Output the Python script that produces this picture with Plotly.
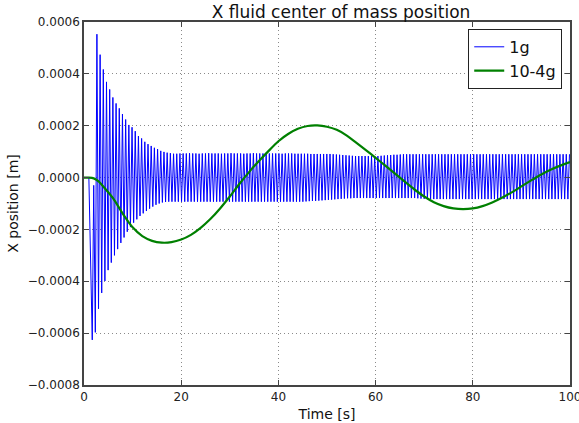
import plotly.graph_objects as go

# ---------------- data ----------------
# 10-4g series: time [s] and X position [m]
t_slow = [0, 1, 2, 3, 4, 6, 8, 10, 12, 14, 16, 18, 20, 22, 24, 26, 28, 30, 32,
          34, 36, 38, 40, 42, 44, 46, 48, 50, 52, 54, 56, 58, 60, 62, 64, 66, 68,
          70, 72, 74, 76, 78, 80, 82, 84, 86, 88, 90, 92, 94, 96, 98, 100]
x_slow = [0.0, 0.0, -0.000003, -0.000015, -0.000035, -0.00008, -0.00014, -0.000192,
          -0.000226, -0.000244, -0.000251, -0.000249, -0.000239, -0.000221,
          -0.000194, -0.00016, -0.000119, -0.000073, -0.000024, 0.000022, 0.000064,
          0.000103, 0.00014, 0.000168, 0.000188, 0.000199, 0.000201, 0.000196, 0.000184,
          0.000163, 0.000135, 0.000106, 0.000076, 0.000046, 0.000015, -0.000016,
          -0.000046, -0.000073, -0.000095, -0.00011, -0.000119, -0.000122, -0.000119,
          -0.00011, -0.000096, -0.000078, -0.000057, -0.000034, -0.000011, 0.000011,
          0.00003, 0.000046, 0.00006]

# 1g series: start of the record, then one down peak and one up peak per cycle
t_start = [0.0, 1.0, 1.7, 2.0]
x_start = [0.0, 0.0, -6.26e-4, -0.30e-4]
first_peak_time = 2.33   # s, first down peak of the regular oscillation
cycle_period = 0.657     # s
# peak values in units of 1e-4 m
up_peaks = [
    5.53, 4.74, 4.17, 3.69, 3.40, 3.09, 2.86, 2.67, 2.45, 2.24, 2.03, 1.94, 1.79,
    1.60, 1.51, 1.38, 1.29, 1.22, 1.15, 1.10, 1.03, 0.99, 0.96, 0.94, 0.92,
    0.92, 0.93, 0.93, 0.93, 0.94, 0.93, 0.93, 0.92, 0.93, 0.93, 0.94, 0.93,
    0.93, 0.93, 0.92, 0.93, 0.93, 0.94, 0.93, 0.93, 0.93, 0.92, 0.93, 0.93,
    0.94, 0.93, 0.93, 0.93, 0.92, 0.93, 0.93, 0.93, 0.93, 0.92, 0.93, 0.93,
    0.93, 0.92, 0.92, 0.92, 0.92, 0.92, 0.91, 0.91, 0.91, 0.91, 0.91, 0.91,
    0.91, 0.90, 0.89, 0.88, 0.87, 0.86, 0.85, 0.84,
    0.83, 0.83, 0.83, 0.83, 0.83, 0.83, 0.83, 0.83,
    0.84, 0.85, 0.86, 0.87, 0.88, 0.88, 0.89,
    0.90, 0.90, 0.90, 0.90, 0.90, 0.90, 0.90, 0.90, 0.90, 0.90, 0.90, 0.90,
    0.90, 0.90, 0.90, 0.90, 0.90, 0.90, 0.90, 0.90, 0.90, 0.90, 0.90, 0.90,
    0.90, 0.90, 0.90, 0.90, 0.90, 0.90, 0.90, 0.90, 0.90, 0.90, 0.90, 0.90,
    0.90, 0.90, 0.90, 0.90, 0.90, 0.90, 0.90, 0.90, 0.90, 0.90, 0.90, 0.90,
    0.90, 0.90, 0.90, 0.90, 0.90,
]
down_peaks = [
    -5.97, -5.06, -4.45, -3.99, -3.57, -3.28, -3.00, -2.76, -2.52, -2.31, -2.09,
    -1.91, -1.74, -1.61, -1.48, -1.38, -1.29, -1.20, -1.12, -1.05, -1.00, -0.96,
    -0.94, -0.93,
    -0.93, -0.93, -0.93, -0.93, -0.93, -0.93, -0.93, -0.93, -0.93, -0.93, -0.93,
    -0.93, -0.93, -0.93, -0.93, -0.93, -0.93, -0.93, -0.93, -0.93, -0.93, -0.93,
    -0.93, -0.93, -0.93, -0.93, -0.93, -0.93, -0.93, -0.93, -0.93, -0.93, -0.93,
    -0.93, -0.93, -0.93, -0.93, -0.93, -0.93, -0.93, -0.93, -0.93,
    -0.92, -0.91, -0.90, -0.90, -0.89, -0.88, -0.87, -0.86, -0.85, -0.84, -0.83,
    -0.82, -0.81, -0.80, -0.80,
    -0.79, -0.79, -0.79, -0.79, -0.79, -0.79, -0.79, -0.79, -0.79, -0.79,
    -0.79, -0.79, -0.79, -0.79, -0.79, -0.79, -0.79, -0.79, -0.79, -0.79,
    -0.80, -0.81, -0.82, -0.83, -0.83, -0.83, -0.83, -0.83, -0.83, -0.83, -0.83,
    -0.83, -0.83, -0.83, -0.83, -0.83, -0.83, -0.83, -0.83, -0.83, -0.83, -0.83,
    -0.83, -0.83, -0.83, -0.83, -0.83, -0.83, -0.83, -0.83, -0.83, -0.83, -0.83,
    -0.83, -0.83, -0.83, -0.83, -0.83, -0.83, -0.83, -0.83, -0.83, -0.83, -0.83,
    -0.83, -0.83, -0.83, -0.83,
]

x_ticks = [0, 20, 40, 60, 80, 100]
y_ticks = [-0.0008, -0.0006, -0.0004, -0.0002, 0.0, 0.0002, 0.0004, 0.0006]

# ---------------- build the 1g trace ----------------
t_fast = list(t_start)
x_fast = list(x_start)
n = min(len(up_peaks), len(down_peaks))
for k in range(n):
    td = first_peak_time + k * cycle_period
    t_fast.append(td)
    x_fast.append(down_peaks[k] * 1e-4)
    t_fast.append(td + cycle_period / 2)
    x_fast.append(up_peaks[k] * 1e-4)

font_family = "DejaVu Sans, Liberation Sans, sans-serif"

fig = go.Figure()
fig.add_trace(go.Scatter(
    x=t_fast, y=x_fast, mode="lines", name="1g",
    line=dict(color="#0000ff", width=1),
))
fig.add_trace(go.Scatter(
    x=t_slow, y=x_slow, mode="lines", name="10-4g",
    line=dict(color="#008000", width=2.2, shape="spline", smoothing=0.6),
))

axis_common = dict(
    showline=True, linecolor="#444444", linewidth=1.5, mirror="ticks",
    ticks="inside", ticklen=5, tickcolor="#444444", tickwidth=1,
    showgrid=True, gridcolor="#8a8a8a", griddash="1px,3px", gridwidth=1,
    zeroline=False, ticklabeloverflow="allow", automargin=False,
    tickfont=dict(family=font_family, size=12, color="#222222"),
)

fig.update_layout(
    width=579, height=423,
    margin=dict(l=84, r=9, t=22, b=38, autoexpand=False),
    paper_bgcolor="white", plot_bgcolor="white",
    title=dict(text="X fluid center of mass position", x=0.589, xanchor="center",
               y=0.972, yanchor="middle",
               font=dict(family=font_family, size=17, color="#111111")),
    xaxis=dict(range=[0, 100], tickvals=x_ticks,
               title=dict(text="Time [s]", standoff=6,
                          font=dict(family=font_family, size=14, color="#111111")),
               **axis_common),
    yaxis=dict(range=[-0.0008, 0.0006], tickvals=y_ticks, tickformat=".4f",
               title=dict(text="X position [m]", standoff=6,
                          font=dict(family=font_family, size=14, color="#111111")),
               **axis_common),
    legend=dict(x=0.984, y=0.981, xanchor="right", yanchor="top",
                bgcolor="white", bordercolor="#222222", borderwidth=1,
                font=dict(family=font_family, size=16, color="#111111"),
                itemwidth=30, tracegroupgap=0),
    showlegend=True,
)

fig.write_html("out.html")
